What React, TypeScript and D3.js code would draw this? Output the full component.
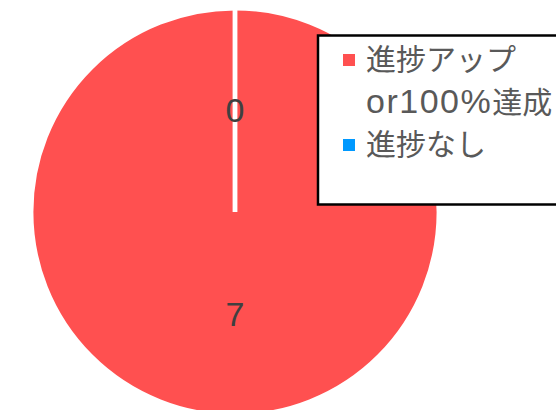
import React from "react";
import * as d3 from "d3";

const categories = ["進捗アップ\nor100%達成", "進捗なし"];
const values = [7, 0];
const colors = ["#FF5050", "#0099FF"];
const legendLines = [
  { cat: 0, parts: [{ t: "進捗アップ", cjk: true }] },
  { cat: -1, parts: [{ t: "or100%", cjk: false }, { t: "達成", cjk: true }] },
  { cat: 1, parts: [{ t: "進捗なし", cjk: true }] },
];

const W = 556;
const H = 410;
const cx = 235;
const cy = 212;
const R = 204;

export default function App() {
  const pie = d3.pie<number>().sort(null).value((d) => d);
  const arcs = pie(values);
  const arc = d3.arc<d3.PieArcDatum<number>>().innerRadius(0).outerRadius(R);
  const labelArc = d3.arc<d3.PieArcDatum<number>>().innerRadius(R / 2).outerRadius(R / 2);
  const latin = "'Liberation Sans', Arial, sans-serif";
  const cjk = "'Noto Sans CJK JP', sans-serif";
  const lineY = d3.scaleLinear().domain([0, 2]).range([70, 155]);
  return (
    <svg width={W} height={H} style={{ position: "absolute", left: 0, top: 0 }}>
      <rect width={W} height={H} fill="#fff" />
      <g transform={`translate(${cx},${cy})`}>
        {arcs.map((a, i) => (
          <path key={i} d={arc(a) || ""} fill={colors[i]} stroke="#fff" strokeWidth={4.8} strokeLinejoin="miter" />
        ))}
        {arcs.map((a, i) => {
          const [x, y] = labelArc.centroid(a);
          return (
            <text key={i} x={x} y={y} dy="0.36em" textAnchor="middle" fontFamily={latin} fontSize={34} fill="#404040">
              {values[i]}
            </text>
          );
        })}
      </g>
      <rect x={318} y={35.5} width={260} height={169} fill="#fff" stroke="#000" strokeWidth={2.5} />
      {legendLines.map((ln, li) => (
        <g key={li}>
          {ln.cat >= 0 && (
            <rect x={343} y={lineY(li) - 16} width={12} height={12} fill={colors[ln.cat]} />
          )}
          <text x={366} y={lineY(li)} fill="#595959">
            {ln.parts.map((p, pi) => (
              <tspan key={pi} fontFamily={p.cjk ? cjk : latin} fontSize={p.cjk ? 30 : 34} letterSpacing={p.cjk ? 0 : 1.5}>
                {p.t}
              </tspan>
            ))}
          </text>
        </g>
      ))}
      <title>{categories.join(", ")}</title>
    </svg>
  );
}
